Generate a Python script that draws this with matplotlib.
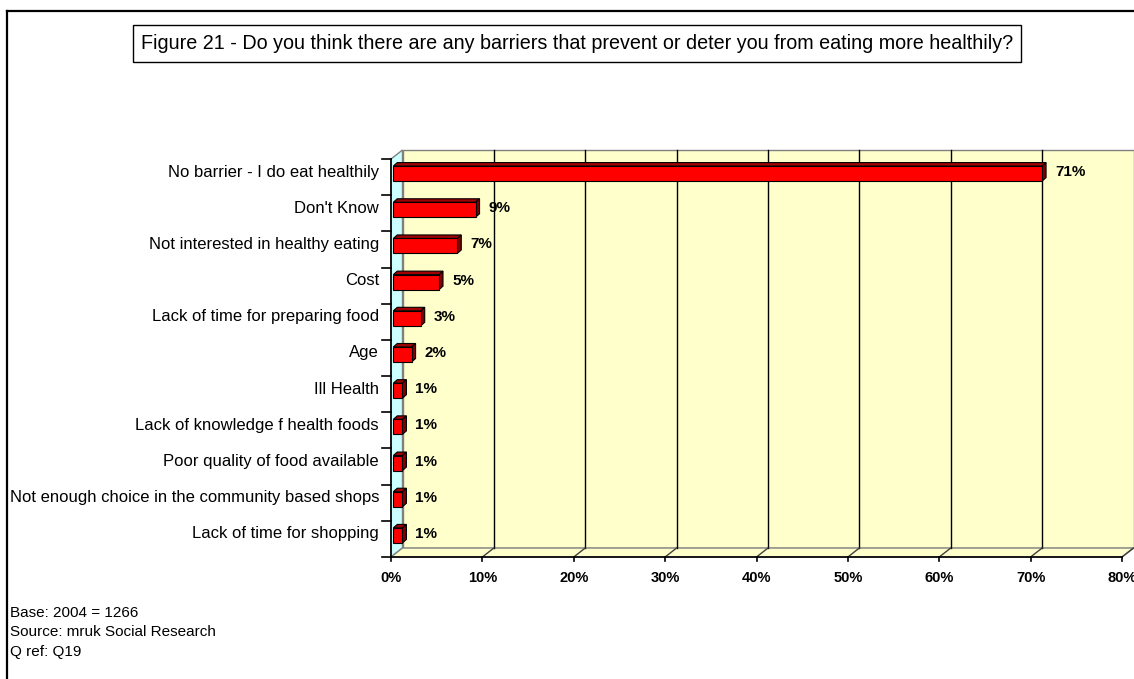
import matplotlib.pyplot as plt
from matplotlib.patches import Rectangle, Polygon

plt.rcParams['font.family'] = ['Liberation Sans', 'DejaVu Sans']

# survey answers, top to bottom
categories = [
    "No barrier - I do eat healthily",
    "Don't Know",
    "Not interested in healthy eating",
    "Cost",
    "Lack of time for preparing food",
    "Age",
    "Ill Health",
    "Lack of knowledge f health foods",
    "Poor quality of food available",
    "Not enough choice in the community based shops",
    "Lack of time for shopping",
]
percentages = [71, 9, 7, 5, 3, 2, 1, 1, 1, 1, 1]
x_ticks = [0, 10, 20, 30, 40, 50, 60, 70, 80]

title = ("Figure 21 - Do you think there are any barriers that prevent "
         "or deter you from eating more healthily?")
notes = ["Base: 2004 = 1266", "Source: mruk Social Research", "Q ref: Q19"]

W, H = 1134, 679
fig = plt.figure(figsize=(W / 100, H / 100), dpi=100)
fig.patch.set_facecolor('white')

# front plane of the chart in pixels
left_px, right_px, top_px, bot_px = 391, 1122, 159, 557
ax = fig.add_axes([left_px / W, (H - bot_px) / H,
                   (right_px - left_px) / W, (bot_px - top_px) / H])
n = len(categories)
ax.set_xlim(0, 80)
ax.set_ylim(-0.5, n - 0.5)
ax.axis('off')

px_x = 80 / (right_px - left_px)
px_y = n / (bot_px - top_px)

# 3d depth of the walls and of the bars
DX, DY = 11.5 * px_x, 9 * px_y
bdx, bdy = 4 * px_x, 3.5 * px_y
x0 = 2.3 * px_x
bar_h = 15 * px_y
shift = 3.5 * px_y

yb, yt = -0.5, n - 0.5

# walls and floor
ax.add_patch(Rectangle((DX, yb + DY), 80, n, fc='#FFFFCC', ec='#808080',
                       lw=1, zorder=1, clip_on=False))
ax.add_patch(Polygon([(0, yb), (DX, yb + DY), (DX, yt + DY), (0, yt)],
                     closed=True, fc='#CCFFFF', ec='#808080', lw=1,
                     zorder=1, clip_on=False))
ax.add_patch(Polygon([(0, yb), (80, yb), (80 + DX, yb + DY), (DX, yb + DY)],
                     closed=True, fc='#FFFFCC', ec='#808080', lw=1,
                     zorder=1, clip_on=False))

# gridlines on the back wall plus their floor lines
for t in x_ticks[1:-1]:
    ax.plot([t + DX, t + DX], [yb + DY, yt + DY], color='black', lw=1,
            zorder=2, clip_on=False)
for t in x_ticks[1:]:
    ax.plot([t, t + DX], [yb, yb + DY], color='#404040', lw=1,
            zorder=2, clip_on=False)

# axes lines and ticks
ax.plot([0, 80], [yb, yb], color='black', lw=1.2, zorder=3, clip_on=False)
ax.plot([0, 0], [yb, yt], color='black', lw=1.2, zorder=3, clip_on=False)
for t in x_ticks:
    ax.plot([t, t], [yb, yb - 4 * px_y], color='black', lw=1.2, zorder=3,
            clip_on=False)
    ax.text(t, yb - 21 * px_y, f"{t}%", ha='center', va='center',
            fontsize=10.5, fontweight='bold', zorder=5)
for k in range(n + 1):
    ax.plot([-9 * px_x, 0], [yb + k, yb + k], color='black', lw=1.2,
            zorder=3, clip_on=False)

# bars
for i, (cat, v) in enumerate(zip(categories, percentages)):
    yc = (n - 1 - i) + shift
    lo, hi = yc - bar_h / 2, yc + bar_h / 2
    x1 = x0 + v
    ax.add_patch(Polygon([(x0, hi), (x1, hi), (x1 + bdx, hi + bdy),
                          (x0 + bdx, hi + bdy)], closed=True, fc='#A00000',
                         ec='black', lw=0.8, zorder=4, clip_on=False))
    ax.add_patch(Polygon([(x1, lo), (x1 + bdx, lo + bdy),
                          (x1 + bdx, hi + bdy), (x1, hi)], closed=True,
                         fc='#800000', ec='black', lw=0.8, zorder=4,
                         clip_on=False))
    ax.add_patch(Rectangle((x0, lo), v, bar_h, fc='#FF0000', ec='black',
                           lw=0.8, zorder=4, clip_on=False))
    ax.text(x1 + bdx + 9 * px_x, yc + 1.5 * px_y, f"{v}%", ha='left',
            va='center', fontsize=11, fontweight='bold', zorder=5)
    ax.text(-12 * px_x, yc + 1.5 * px_y, cat, ha='right', va='center',
            fontsize=12, zorder=5)

# outer frame (top and left edges)
fig.add_artist(plt.Line2D([6.5 / W, 1], [1 - 11 / H, 1 - 11 / H],
                          color='black', lw=1.6, transform=fig.transFigure))
fig.add_artist(plt.Line2D([6.5 / W, 6.5 / W], [0, 1 - 11 / H],
                          color='black', lw=1.6, transform=fig.transFigure))

# title in its box
fig.add_artist(Rectangle((133 / W, 1 - 62 / H), (1021 - 133) / W, 37 / H,
                         fc='white', ec='black', lw=1,
                         transform=fig.transFigure))
fig.text(577 / W, 1 - 43.5 / H, title, ha='center', va='center',
         fontsize=14.2)

# footnotes
for j, line in enumerate(notes):
    fig.text(10 / W, 1 - (613 + 19.5 * j) / H, line, ha='left', va='center',
             fontsize=11)

fig.savefig('out.png', dpi=100)
